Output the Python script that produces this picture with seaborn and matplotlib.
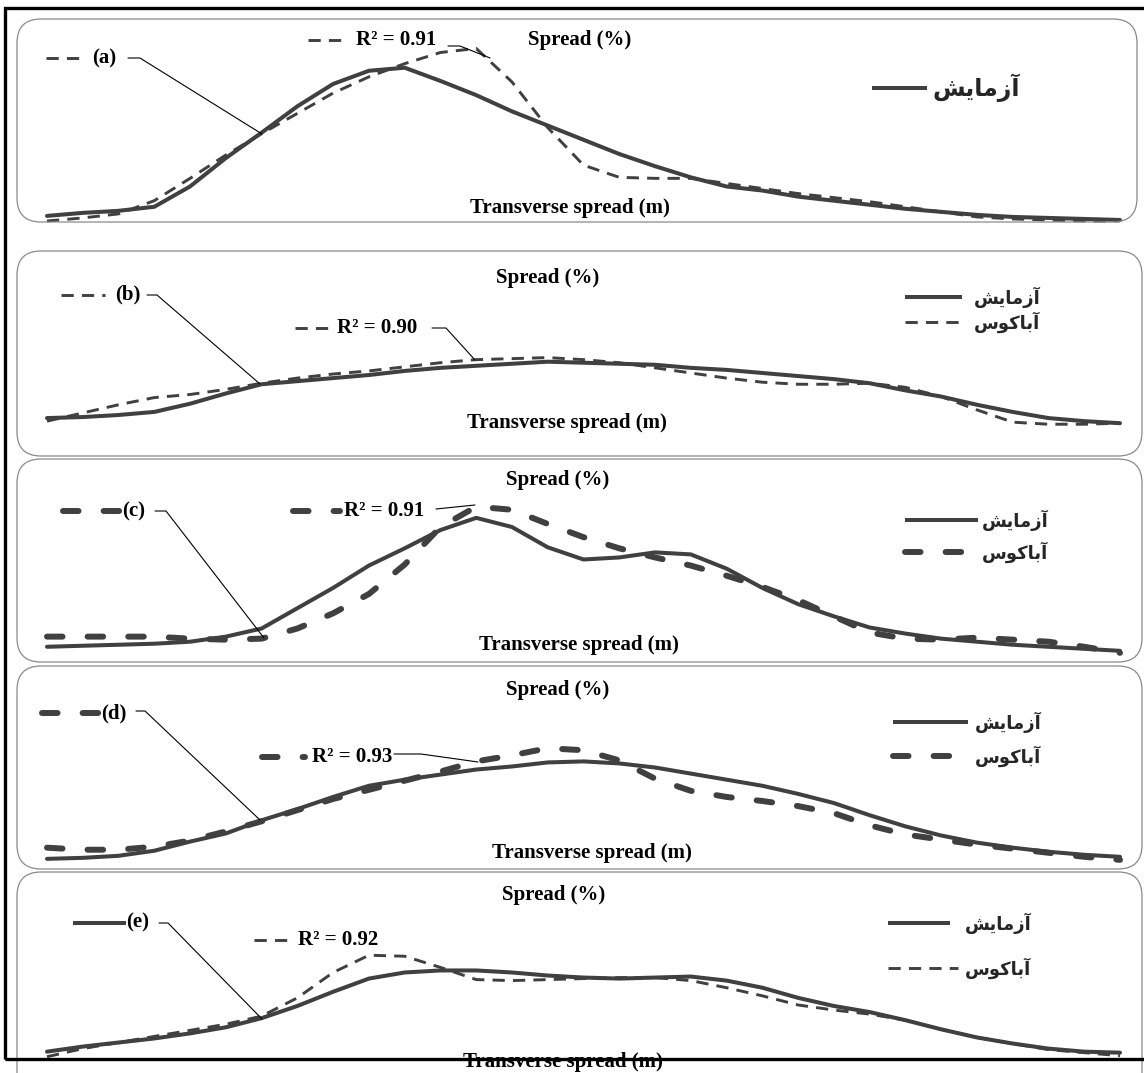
import numpy as np
import matplotlib
matplotlib.use("Agg")
import matplotlib.pyplot as plt
import seaborn as sns
from matplotlib.patches import FancyBboxPatch, Rectangle
from matplotlib.lines import Line2D

# ---- data -------------------------------------------------------------
# transverse position (m), same grid for every panel
x_m = np.arange(0, 15.01, 0.5)

# spread (%) : experiment (solid) and Abaqus (dashed)
exp_a = [0.6, 0.9, 1.1, 1.5, 3.5, 6.3, 8.8, 11.4, 13.6, 14.9, 15.2, 13.9, 12.5, 10.9, 9.5, 8.1,
         6.7, 5.5, 4.4, 3.5, 3.1, 2.5, 2.1, 1.7, 1.3, 1.0, 0.7, 0.5, 0.4, 0.3, 0.2]
abq_a = [0.1, 0.4, 0.8, 2.1, 4.3, 6.6, 8.7, 10.7, 12.7, 14.3, 15.6, 16.7, 17.1, 13.8, 9.3, 5.6,
         4.4, 4.3, 4.3, 3.8, 3.3, 2.8, 2.4, 2.0, 1.5, 1.0, 0.5, 0.3, 0.2, 0.1, 0.1]

exp_b = [3.7, 3.8, 4.0, 4.3, 5.1, 6.1, 7.0, 7.3, 7.6, 7.9, 8.3, 8.6, 8.8, 9.0, 9.2, 9.1,
         9.0, 8.9, 8.6, 8.4, 8.1, 7.8, 7.5, 7.1, 6.4, 5.8, 5.0, 4.3, 3.7, 3.4, 3.2]
abq_b = [3.4, 4.2, 5.0, 5.7, 6.0, 6.5, 7.1, 7.6, 8.0, 8.3, 8.7, 9.1, 9.4, 9.5, 9.6, 9.4,
         9.1, 8.6, 8.1, 7.6, 7.2, 7.0, 7.0, 7.1, 6.7, 5.8, 4.5, 3.3, 3.1, 3.1, 3.2]

exp_c = [1.5, 1.6, 1.7, 1.8, 2.0, 2.5, 3.3, 5.3, 7.3, 9.5, 11.2, 13.0, 14.2, 13.3, 11.3, 10.1,
         10.3, 10.8, 10.6, 9.2, 7.3, 5.7, 4.5, 3.4, 2.8, 2.3, 2.0, 1.7, 1.5, 1.3, 1.1]
abq_c = [2.5, 2.5, 2.5, 2.5, 2.3, 2.2, 2.3, 3.3, 4.8, 6.7, 9.6, 13.3, 15.3, 15.0, 13.6, 12.3,
         11.2, 10.3, 9.5, 8.5, 7.4, 6.1, 4.5, 2.9, 2.3, 2.2, 2.4, 2.2, 2.0, 1.5, 0.9]

exp_d = [1.0, 1.1, 1.3, 1.8, 2.7, 3.5, 4.8, 5.9, 7.1, 8.2, 8.8, 9.3, 9.8, 10.1, 10.5, 10.6,
         10.4, 10.0, 9.4, 8.8, 8.2, 7.4, 6.5, 5.3, 4.2, 3.3, 2.6, 2.1, 1.7, 1.4, 1.2]
abq_d = [2.1, 1.9, 1.9, 2.2, 2.8, 3.7, 4.7, 5.8, 6.9, 7.8, 8.7, 9.6, 10.6, 11.2, 11.9, 11.7,
         10.7, 8.9, 7.7, 7.1, 6.7, 6.2, 5.5, 4.3, 3.4, 2.9, 2.4, 2.0, 1.6, 1.2, 0.9]

exp_e = [2.3, 2.8, 3.2, 3.6, 4.1, 4.7, 5.6, 6.8, 8.2, 9.5, 10.1, 10.3, 10.3, 10.1, 9.8, 9.6,
         9.5, 9.6, 9.7, 9.3, 8.6, 7.6, 6.8, 6.2, 5.4, 4.5, 3.7, 3.1, 2.6, 2.3, 2.2]
abq_e = [1.8, 2.6, 3.2, 3.8, 4.4, 5.0, 5.8, 7.6, 10.1, 11.8, 11.7, 10.6, 9.4, 9.3, 9.4, 9.5,
         9.6, 9.6, 9.3, 8.6, 7.8, 6.9, 6.4, 6.0, 5.4, 4.5, 3.7, 3.1, 2.5, 2.2, 1.9]

tags = ["(a)", "(b)", "(c)", "(d)", "(e)"]
r2_vals = ["0.91", "0.90", "0.91", "0.93", "0.92"]
lbl_exp = "آزمایش"
lbl_abq = "آباکوس"
lbl_y = "Spread (%)"
lbl_x = "Transverse spread (m)"

# ---- tiny persian shaper (matplotlib has no arabic shaping) ----------
FORMS = {  # isolated, final, initial, medial
    "آ": ("\uFE81", "\uFE82", None, None),
    "ا": ("\uFE8D", "\uFE8E", None, None),
    "ب": ("\uFE8F", "\uFE90", "\uFE91", "\uFE92"),
    "ز": ("\uFEAF", "\uFEB0", None, None),
    "س": ("\uFEB1", "\uFEB2", "\uFEB3", "\uFEB4"),
    "ش": ("\uFEB5", "\uFEB6", "\uFEB7", "\uFEB8"),
    "م": ("\uFEE1", "\uFEE2", "\uFEE3", "\uFEE4"),
    "و": ("\uFEED", "\uFEEE", None, None),
    "ی": ("\uFBFC", "\uFBFD", "\uFEF3", "\uFEF4"),
    "ک": ("\uFB8E", "\uFB8F", "\uFB90", "\uFB91"),
}


def shape_fa(s):
    out = []
    for i, ch in enumerate(s):
        f = FORMS.get(ch)
        if f is None:
            out.append(ch)
            continue
        prev = FORMS.get(s[i - 1]) if i > 0 else None
        nxt = s[i + 1] if i + 1 < len(s) else None
        jp = prev is not None and prev[2] is not None
        jn = nxt in FORMS and f[2] is not None
        if jp and jn:
            out.append(f[3])
        elif jp:
            out.append(f[1])
        elif jn:
            out.append(f[2])
        else:
            out.append(f[0])
    return "".join(out[::-1])


# ---- figure -------------------------------------------------------------
sns.set_style("white")
plt.rcParams["font.family"] = ["Liberation Serif", "DejaVu Serif"]

W, H = 1144, 1073
fig = plt.figure(figsize=(W / 100, H / 100), dpi=100)
tr = fig.dpi_scale_trans
INK = "#404040"


def P(x, y):
    return x / 100, (H - y) / 100


SOLID = dict(lw=2.9, ls="-", solid_capstyle="butt")
THIN = dict(lw=2.1, ls=(0, (4.2, 2.8)), dash_capstyle="butt")
THICK = dict(lw=4.3, ls=(0, (2.6, 4.2)), dash_capstyle="round")


def fig_line(xs, ys, style, color=INK, lw=None):
    pts = [P(a, b) for a, b in zip(xs, ys)]
    st = dict(style)
    if lw is not None:
        st["lw"] = lw
    fig.add_artist(Line2D([p[0] for p in pts], [p[1] for p in pts], color=color,
                          transform=tr, **st))


# per-panel layout (pixel positions)
panels = [
    dict(box=(17, 19, 1137, 222), bot=222, hgt=203, exp=exp_a, abq=abq_a, dash=THIN,
         spread=(580, 40), trans=(570, 208),
         tag=(92, 58), tag_key=((46, 86), 58, THIN), tag_lead=[(128, 58), (140, 58), (262, 134)],
         r2=(356, 40), r2_key=((308, 348), 40, THIN), r2_lead=[(448, 46), (460, 46), (490, 58)],
         leg=[(872, 927, 88, SOLID, lbl_exp, 932)], legsize=17),
    dict(box=(17, 251, 1142, 456), bot=456, hgt=205, exp=exp_b, abq=abq_b, dash=THIN,
         spread=(548, 278), trans=(567, 423),
         tag=(115, 294), tag_key=((61, 105), 295, THIN), tag_lead=[(147, 295), (157, 295), (260, 384)],
         r2=(337, 328), r2_key=((295, 330), 328, THIN), r2_lead=[(432, 328), (446, 328), (475, 360)],
         leg=[(905, 962, 297, SOLID, lbl_exp, 974), (905, 962, 322, THIN, lbl_abq, 974)], legsize=13),
    dict(box=(17, 459, 1142, 662), bot=662, hgt=203, exp=exp_c, abq=abq_c, dash=THICK,
         spread=(558, 480), trans=(579, 645),
         tag=(122, 511), tag_key=((63, 120), 511, THICK), tag_lead=[(155, 511), (166, 511), (264, 638)],
         r2=(344, 511), r2_key=((293, 340), 511, THICK), r2_lead=[(436, 509), (475, 505)],
         leg=[(905, 978, 520, SOLID, lbl_exp, 982), (905, 978, 552, THICK, lbl_abq, 982)], legsize=13),
    dict(box=(17, 666, 1142, 869), bot=869, hgt=203, exp=exp_d, abq=abq_d, dash=THICK,
         spread=(558, 690), trans=(592, 853),
         tag=(101, 713), tag_key=((42, 101), 713, THICK), tag_lead=[(136, 711), (145, 711), (260, 820)],
         r2=(312, 757), r2_key=((262, 305), 757, THICK), r2_lead=[(394, 754), (421, 754), (478, 762)],
         leg=[(893, 968, 722, SOLID, lbl_exp, 975), (893, 968, 756, THICK, lbl_abq, 975)], legsize=13),
    dict(box=(17, 872, 1142, 1110), bot=1075, hgt=203, exp=exp_e, abq=abq_e, dash=THIN,
         spread=(554, 895), trans=(563, 1062),
         tag=(126, 922), tag_key=((73, 126), 923, SOLID), tag_lead=[(159, 923), (168, 923), (262, 1019)],
         r2=(298, 940), r2_key=((254, 292), 940, THIN), r2_lead=None,
         leg=[(888, 950, 923, SOLID, lbl_exp, 965), (888, 958, 968, THIN, lbl_abq, 965)], legsize=13),
]

X0, X1 = 47, 1120
txt = dict(fontsize=15, fontweight="bold", color="black", transform=tr)

for k, pn in enumerate(panels):
    bx0, by0, bx1, by1 = pn["box"]
    x_in, y_in = P(bx0, by1)
    box = FancyBboxPatch((x_in, y_in), (bx1 - bx0) / 100, (by1 - by0) / 100,
                         boxstyle="round,pad=0,rounding_size=0.24", transform=tr,
                         facecolor="none", edgecolor="#8a8a8a", lw=0.9)
    fig.add_artist(box)

    ax = fig.add_axes([X0 / W, 1 - pn["bot"] / H, (X1 - X0) / W, pn["hgt"] / H])
    ax.set_xlim(0, 15)
    ax.set_ylim(0, 20)
    ax.axis("off")
    sns.lineplot(x=x_m, y=pn["exp"], ax=ax, color=INK, lw=2.9, clip_on=False, errorbar=None,
                 solid_joinstyle="round")
    sty = pn["dash"]
    sns.lineplot(x=x_m, y=pn["abq"], ax=ax, color=INK, lw=sty["lw"], linestyle=sty["ls"],
                 dash_capstyle=sty["dash_capstyle"], dash_joinstyle="round", clip_on=False,
                 errorbar=None)

    fig.text(*P(*pn["spread"]), lbl_y, ha="center", va="center", **txt)
    fig.text(*P(*pn["trans"]), lbl_x, ha="center", va="center", **txt)

    # tag + key + leader
    (kx0, kx1), ky, kst = pn["tag_key"]
    fig_line([kx0, kx1], [ky, ky], kst)
    fig.text(*P(*pn["tag"]), tags[k], ha="left", va="center", **txt)
    lx, ly = zip(*pn["tag_lead"])
    fig_line(lx, ly, dict(ls="-"), color="black", lw=0.8)

    # R2 + key + leader
    (kx0, kx1), ky, kst = pn["r2_key"]
    fig_line([kx0, kx1], [ky, ky], kst)
    fig.text(*P(*pn["r2"]), "R² = " + r2_vals[k], ha="left", va="center", **txt)
    if pn["r2_lead"]:
        lx, ly = zip(*pn["r2_lead"])
        fig_line(lx, ly, dict(ls="-"), color="black", lw=0.8)

    # persian legend
    for lx0, lx1, ly, lst, lab, tx in pn["leg"]:
        fig_line([lx0, lx1], [ly, ly], lst)
        fig.text(*P(tx, ly), shape_fa(lab), ha="left", va="center", fontsize=pn["legsize"],
                 fontweight="bold", family=["DejaVu Sans", "Noto Sans"], transform=tr)

# outer black frame (its right side lies outside the picture)
fx, fy = P(5, 1059)
fig.add_artist(Rectangle((fx, fy), (1170 - 5) / 100, (1059 - 8) / 100, transform=tr,
                         facecolor="none", edgecolor="black", lw=2.4, zorder=10))

fig.savefig("out.png", dpi=100, facecolor="white")
